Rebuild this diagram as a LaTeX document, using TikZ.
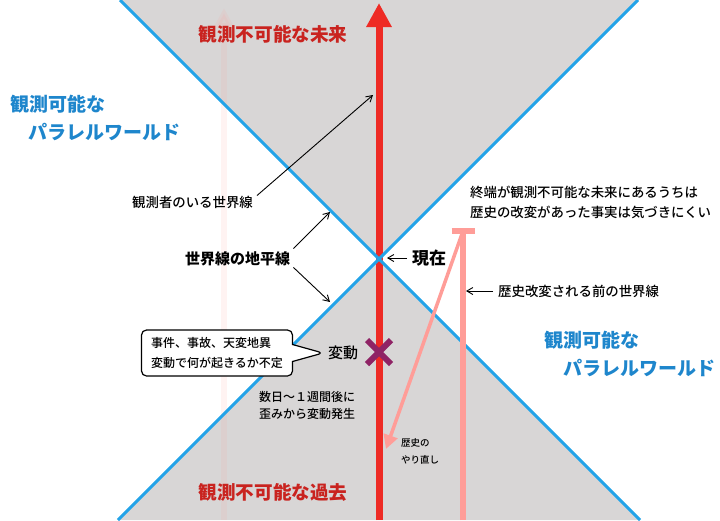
\documentclass[tikz,border=0pt]{standalone}
\usepackage{fontspec}
\setmainfont{Noto Sans CJK JP}
\newfontfamily\medjp{Noto Sans CJK JP Medium}
\usetikzlibrary{arrows.meta,shapes.callouts}

\definecolor{conegray}{HTML}{D8D6D6}
\definecolor{skyblue}{HTML}{23A3E8}
\definecolor{parablue}{HTML}{1E86CC}
\definecolor{linered}{HTML}{EE2B25}
\definecolor{titlered}{HTML}{C9231F}
\definecolor{oldpink}{HTML}{FF9D98}
\definecolor{changepurple}{HTML}{8F2365}

\begin{document}
\begin{tikzpicture}[x=1pt,y=-1pt,
    horizon/.style={draw=skyblue,line width=3pt},
    worldline/.style={draw=linered,line width=7pt,-{Triangle[width=24pt,length=24pt]}},
    oldline/.style={draw=oldpink,line width=6pt},
    redo/.style={draw=oldpink,line width=3.5pt,-{Triangle[width=14pt,length=14pt]}},
    pointer/.style={draw=black,line width=0.9pt,-{Straight Barb[length=6pt,width=7pt]}},
    title/.style={font=\fontsize{18.6}{20}\selectfont\bfseries,text=titlered,inner sep=0pt},
    para/.style={font=\fontsize{19}{20}\selectfont\bfseries,text=parablue,inner sep=0pt,anchor=west}]

        \useasboundingbox (0,0) rectangle (720,520);

        \coordinate (now) at (379,259);
        \fill[conegray] (120,0) -- (638,0) -- (now) -- cycle;
        \fill[conegray] (118,520) -- (640,520) -- (now) -- cycle;

        % ghost of an earlier world line
        \draw[draw=oldpink,line width=6pt,opacity=0.12,-{Triangle[width=20pt,length=20pt]}] (224,520) -- (224,8);

        \coordinate (wbot) at (379,520);
        \coordinate (wtop) at (379,3);
        \draw[worldline] (wbot) -- (wtop);

        \draw[horizon] (120,0) -- (640,520);
        \draw[horizon] (118,520) -- (638,0);

        \coordinate (oldbot) at (463,520);
        \coordinate (oldtop) at (463,231);
        \coordinate (redoend) at (386,449);
        \draw[oldline] (oldbot) -- (oldtop);
        \draw[oldline] ([xshift=-11.5pt]oldtop) -- ([xshift=11.5pt]oldtop);
        \draw[redo] (oldtop) -- (redoend);

        \coordinate (change) at (379,352);
        \draw[changepurple,line width=6pt] (367,340) -- (391,364) (367,364) -- (391,340);

        \node[title] (future) at (273,34) {観測不可能な未来};
        \node[title] (past)   at (273,492) {観測不可能な過去};

        \node[para] (kanoL)  at (10,104)  {観測可能な};
        \node[para] (worldL) at (28,132)  {パラレルワールド};
        \node[para] (kanoR)  at (544,340) {観測可能な};
        \node[para] (worldR) at (563,368) {パラレルワールド};

        \begin{scope}[every node/.style={inner sep=0pt,anchor=west,font=\fontsize{13.4}{20}\selectfont\medjp}]
          \node (observer) at (132,202) {観測者のいる世界線};
          \node[align=left] (note) at (470,202) {終端が観測不可能な未来にあるうちは\\歴史の改変があった事実は気づきにくい};
          \node (before) at (498,291) {歴史改変される前の世界線};
          \node[font=\fontsize{15}{18}\selectfont\bfseries] (horizonlbl) at (185,259) {世界線の地平線};
          \node[font=\fontsize{17}{18}\selectfont\bfseries] (genzai) at (412,258) {現在};
          \node[font=\fontsize{15}{18}\selectfont\medjp] (hendou) at (328,353) {変動};
          \node[align=left,font=\fontsize{12}{17.5}\selectfont\medjp] (delay) at (259,405.5) {数日～１週間後に\\歪みから変動発生};
          \node[align=left,font=\fontsize{9.5}{17}\selectfont\medjp] (yarinaoshi) at (401,451.5) {歴史の\\やり直し};
        \end{scope}

        \node[rectangle callout,draw=black,line width=1.2pt,fill=white,rounded corners=5pt,
              minimum width=151pt,minimum height=46pt,inner sep=0pt,align=left,
              font=\fontsize{12}{20}\selectfont\medjp,
              callout absolute pointer={([xshift=-5pt]hendou.west)},callout pointer width=17pt]
              (events) at (217,353) {事件、事故、天変地異\\変動で何が起きるか不定};

        \coordinate (obstip) at (373,95);
        \coordinate (hztop) at (330,212);
        \coordinate (hzbot) at (330,302);
        \coordinate (nowmark) at (387,258);
        \coordinate (oldmid) at (466,291);

        \draw[pointer] ([xshift=4pt]observer.north east) -- (obstip);
        \draw[pointer] ([xshift=3pt,yshift=3pt]horizonlbl.north east) -- (hztop);
        \draw[pointer] ([xshift=3pt,yshift=-1pt]horizonlbl.south east) -- (hzbot);
        \draw[pointer] ([xshift=-5pt]genzai.west) -- (nowmark);
        \draw[pointer] ([xshift=-5pt]before.west) -- (oldmid);

      \end{tikzpicture}
\end{document}
